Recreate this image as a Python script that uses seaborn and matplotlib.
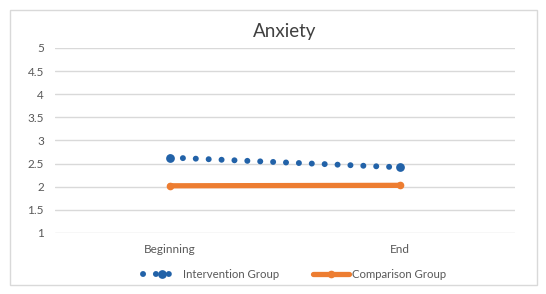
import numpy as np
import pandas as pd
import matplotlib.pyplot as plt
import matplotlib.patches as mpatches
import seaborn as sns

# chart values
stages = ["Beginning", "End"]
intervention = [2.63, 2.42]
comparison = [2.02, 2.03]
groups = ["Intervention Group", "Comparison Group"]
y_ticks = [1, 1.5, 2, 2.5, 3, 3.5, 4, 4.5, 5]

df = pd.DataFrame({
    "stage": stages * 2,
    "score": intervention + comparison,
    "group": [groups[0]] * 2 + [groups[1]] * 2,
})

sns.set_style("white")
plt.rcParams["font.family"] = ["Lato", "DejaVu Sans"]

blue = "#2262a8"
orange = "#ed7d31"

fig = plt.figure(figsize=(5.46, 2.94), dpi=100)
ax = fig.add_axes([0.1007, 0.2075, 0.8425, 0.6295])

sns.lineplot(data=df[df.group == groups[1]], x="stage", y="score", ax=ax,
             color=orange, linewidth=3.8, marker="o", markersize=5.5,
             markeredgewidth=0, solid_capstyle="round", label=groups[1])
sns.lineplot(data=df[df.group == groups[0]], x="stage", y="score", ax=ax,
             color=blue, linewidth=4.3, marker="o", markersize=6.3,
             markeredgewidth=0, linestyle=(0, (0.01, 2.15)),
             dash_capstyle="round", label=groups[0])

ax.set_xlim(-0.5, 1.5)
ax.set_ylim(1, 5)
ax.set_yticks(y_ticks)
ax.set_yticklabels([f"{t:g}" for t in y_ticks])
ax.grid(axis="y", color="#d9d9d9", linewidth=1)
ax.set_axisbelow(True)
for s in ax.spines.values():
    s.set_visible(False)
ax.tick_params(axis="both", length=0, labelsize=8.5, colors="#595959", pad=8)
ax.set_xlabel("")
ax.set_ylabel("")
ax.set_title("Anxiety", fontsize=13.5, color="#404040", pad=8)

handles, labels = ax.get_legend_handles_labels()
ax.get_legend().remove()
order = [labels.index(g) for g in groups]
fig.legend([handles[i] for i in order], [labels[i] for i in order],
           loc="center", bbox_to_anchor=(0.54, 0.065), ncol=2, frameon=False,
           fontsize=8.2, labelcolor="#595959", handlelength=3.2,
           columnspacing=3.0, handletextpad=0.25)

fig.patches.append(mpatches.Rectangle((0.018, 0.031), 0.965, 0.935,
                                      transform=fig.transFigure, fill=False,
                                      edgecolor="#d9d9d9", linewidth=1))

fig.savefig("out.png", dpi=100)
